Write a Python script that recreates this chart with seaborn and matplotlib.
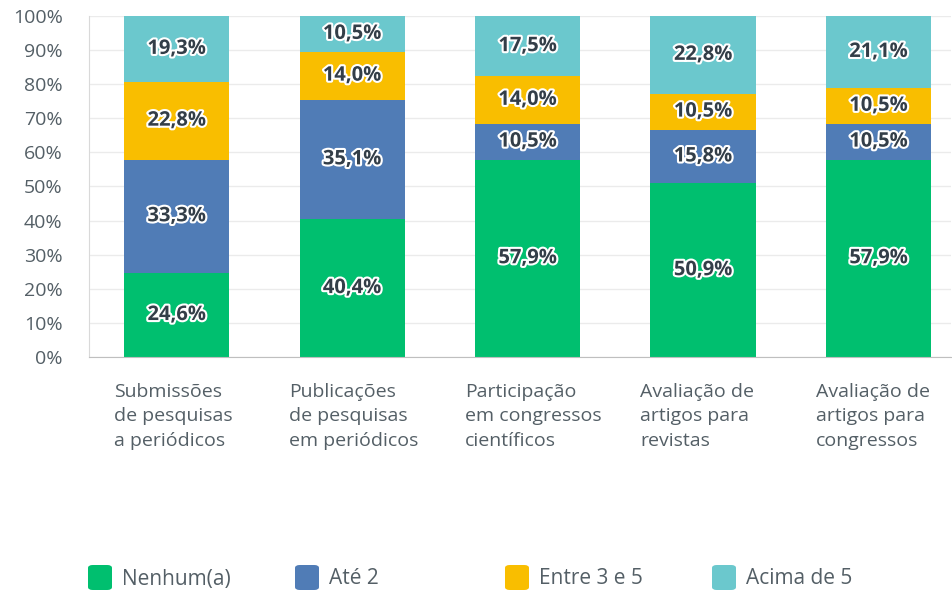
import matplotlib
matplotlib.use('Agg')
import matplotlib.pyplot as plt
import matplotlib.patheffects as pe
from matplotlib.patches import FancyBboxPatch
from matplotlib.transforms import ScaledTranslation
import numpy as np
import pandas as pd
import seaborn as sns

categories = ['Submissões\nde pesquisas\na periódicos',
              'Publicações\nde pesquisas\nem periódicos',
              'Participação\nem congressos\ncientíficos',
              'Avaliação de\nartigos para\nrevistas',
              'Avaliação de\nartigos para\ncongressos']
series = ['Nenhum(a)', 'Até 2', 'Entre 3 e 5', 'Acima de 5']
nenhum = [24.6, 40.4, 57.9, 50.9, 57.9]
ate2 = [33.3, 35.1, 10.5, 15.8, 10.5]
entre3e5 = [22.8, 14.0, 14.0, 10.5, 10.5]
acima5 = [19.3, 10.5, 17.5, 22.8, 21.1]
colors = ['#00bf6f', '#507cb6', '#f9be00', '#6bc8cd']

sns.set_style('white')
plt.rcParams['font.family'] = ['Open Sans', 'DejaVu Sans']

df = pd.DataFrame({'cat': categories, 'Nenhum(a)': nenhum, 'Até 2': ate2,
                   'Entre 3 e 5': entre3e5, 'Acima de 5': acima5})
values = df[series].to_numpy()
cum = values.cumsum(axis=1)

fig = plt.figure(figsize=(9.53, 5.92), dpi=100)
ax = fig.add_axes([0.0934, 0.397, 0.904, 0.576])

# draw from the top of the stack down so each layer covers the one above
for i in range(len(series) - 1, -1, -1):
    sns.barplot(x=df['cat'], y=cum[:, i], color=colors[i], width=0.6,
                linewidth=0, saturation=1, ax=ax, zorder=2)

ax.set_ylim(0, 100)
ax.set_xlim(-0.5, 4.41)
ax.set_yticks(np.arange(0, 101, 10))
ax.set_yticklabels([f'{v}%' for v in range(0, 101, 10)], fontsize=14, color='#545f66')
ax.yaxis.grid(True, color='#ebebeb', linewidth=1, zorder=0)
ax.set_axisbelow(True)
ax.set_xlabel('')
ax.set_ylabel('')
for s in ['top', 'right']:
    ax.spines[s].set_visible(False)
ax.spines['left'].set_color('#d9d9d9')
ax.spines['bottom'].set_color('#bfbfbf')
ax.tick_params(axis='both', length=0)
ax.tick_params(axis='y', pad=19)
ax.set_xticks(range(len(categories)))
ax.set_xticklabels([])

# category labels, left aligned a little left of each bar
offset = ScaledTranslation(-63 / 100, -26 / 100, fig.dpi_scale_trans)
for j, cat in enumerate(categories):
    ax.text(j, 0, cat, transform=ax.get_xaxis_transform() + offset,
            ha='left', va='top', fontsize=14, color='#545f66', linespacing=1.45)

stroke = [pe.withStroke(linewidth=3, foreground='white')]
for j in range(len(categories)):
    for i in range(len(series)):
        v = values[j, i]
        mid = cum[j, i] - v / 2
        ax.text(j, mid, f'{v:.1f}%'.replace('.', ','), ha='center', va='center',
                fontsize=14.5, fontweight='bold', color='#333e48',
                path_effects=stroke, zorder=5)

# legend
leg_x = [88, 295, 505, 712]
for x0, name, c in zip(leg_x, series, colors):
    rect = FancyBboxPatch((x0 / 953, 1 - 590 / 592), 24 / 953, 25 / 592,
                          boxstyle='round,pad=0,rounding_size=0.005',
                          transform=fig.transFigure, facecolor=c, edgecolor='none')
    fig.patches.append(rect)
    fig.text((x0 + 34) / 953, 1 - 579 / 592, name, fontsize=15, color='#545f66',
             va='center', ha='left')

fig.savefig('out.png', dpi=100)
